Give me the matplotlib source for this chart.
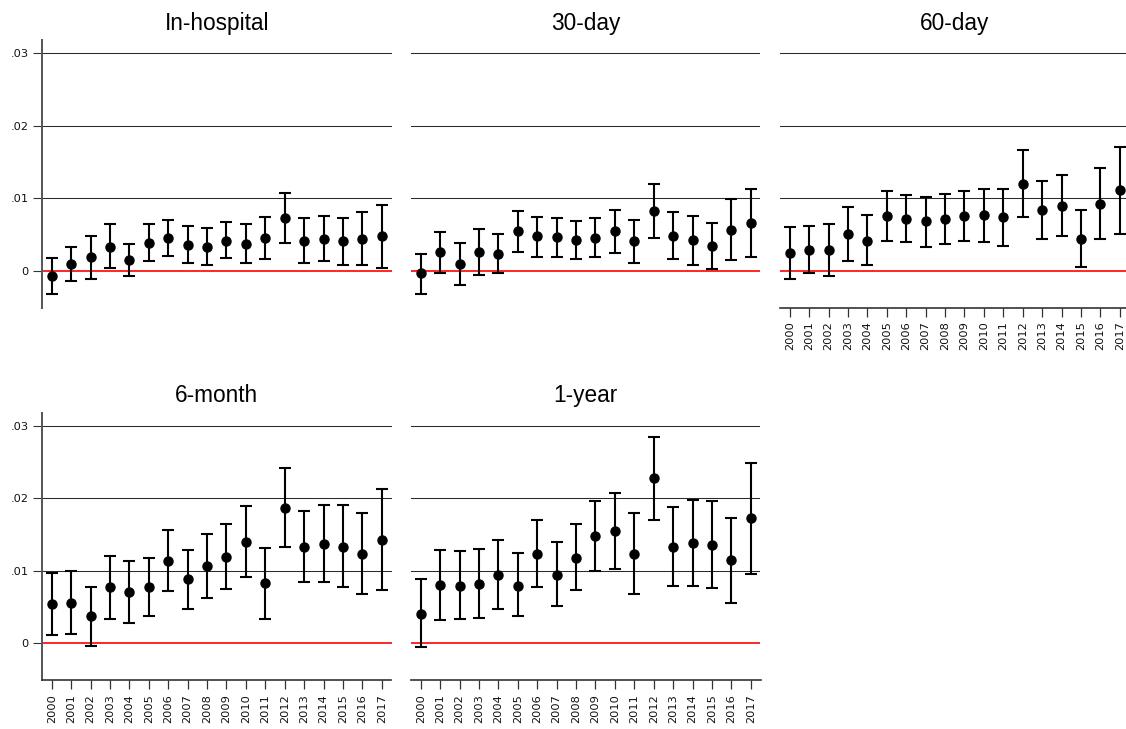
import matplotlib
matplotlib.use("Agg")
import matplotlib.pyplot as plt
import numpy as np

years = list(range(2000, 2018))

# point estimates, upper and lower 95% bounds by outcome window
inhosp_est = [-0.0007, 0.0009, 0.0018, 0.0033, 0.0015, 0.0038, 0.0045, 0.0035, 0.0033, 0.0041,
              0.0036, 0.0045, 0.0072, 0.0041, 0.0044, 0.0041, 0.0044, 0.0047]
inhosp_hi = [0.0017, 0.0033, 0.0047, 0.0064, 0.0037, 0.0064, 0.0070, 0.0061, 0.0059, 0.0067,
             0.0064, 0.0074, 0.0107, 0.0073, 0.0075, 0.0073, 0.0081, 0.0090]
inhosp_lo = [-0.0032, -0.0015, -0.0011, 0.0003, -0.0008, 0.0013, 0.0020, 0.0010, 0.0007, 0.0017,
             0.0011, 0.0016, 0.0038, 0.0011, 0.0013, 0.0008, 0.0008, 0.0003]

d30_est = [-0.0004, 0.0025, 0.0009, 0.0025, 0.0023, 0.0054, 0.0047, 0.0046, 0.0042, 0.0045,
           0.0054, 0.0041, 0.0082, 0.0048, 0.0042, 0.0034, 0.0056, 0.0066]
d30_hi = [0.0023, 0.0053, 0.0038, 0.0057, 0.0050, 0.0082, 0.0074, 0.0073, 0.0069, 0.0073,
          0.0083, 0.0070, 0.0120, 0.0081, 0.0075, 0.0066, 0.0099, 0.0112]
d30_lo = [-0.0032, -0.0004, -0.0020, -0.0006, -0.0004, 0.0026, 0.0019, 0.0018, 0.0016, 0.0018,
          0.0024, 0.0010, 0.0045, 0.0016, 0.0008, 0.0002, 0.0014, 0.0019]

d60_est = [0.0024, 0.0029, 0.0028, 0.0051, 0.0041, 0.0075, 0.0071, 0.0068, 0.0071, 0.0075,
           0.0076, 0.0074, 0.0120, 0.0084, 0.0089, 0.0044, 0.0092, 0.0111]
d60_hi = [0.0060, 0.0062, 0.0064, 0.0088, 0.0076, 0.0110, 0.0104, 0.0102, 0.0106, 0.0110,
          0.0113, 0.0113, 0.0166, 0.0123, 0.0132, 0.0084, 0.0141, 0.0171]
d60_lo = [-0.0011, -0.0004, -0.0007, 0.0013, 0.0007, 0.0041, 0.0039, 0.0033, 0.0037, 0.0041,
          0.0039, 0.0034, 0.0074, 0.0044, 0.0047, 0.0005, 0.0043, 0.0050]

m6_est = [0.0054, 0.0056, 0.0037, 0.0077, 0.0070, 0.0078, 0.0113, 0.0088, 0.0106, 0.0119,
          0.0140, 0.0083, 0.0187, 0.0133, 0.0137, 0.0133, 0.0123, 0.0143]
m6_hi = [0.0097, 0.0100, 0.0078, 0.0121, 0.0113, 0.0118, 0.0156, 0.0129, 0.0150, 0.0164,
         0.0189, 0.0132, 0.0242, 0.0183, 0.0190, 0.0190, 0.0179, 0.0213]
m6_lo = [0.0011, 0.0013, -0.0004, 0.0033, 0.0028, 0.0038, 0.0072, 0.0047, 0.0063, 0.0075,
         0.0092, 0.0034, 0.0133, 0.0084, 0.0085, 0.0078, 0.0068, 0.0073]

y1_est = [0.0041, 0.0080, 0.0079, 0.0082, 0.0094, 0.0079, 0.0123, 0.0094, 0.0118, 0.0148,
          0.0155, 0.0123, 0.0228, 0.0133, 0.0138, 0.0136, 0.0115, 0.0173]
y1_hi = [0.0088, 0.0128, 0.0127, 0.0130, 0.0142, 0.0124, 0.0170, 0.0139, 0.0165, 0.0196,
         0.0207, 0.0179, 0.0285, 0.0188, 0.0197, 0.0196, 0.0173, 0.0249]
y1_lo = [-0.0005, 0.0032, 0.0033, 0.0035, 0.0047, 0.0037, 0.0077, 0.0051, 0.0073, 0.0100,
         0.0102, 0.0068, 0.0170, 0.0079, 0.0079, 0.0076, 0.0056, 0.0096]

titles = ["In-hospital", "30-day", "60-day", "6-month", "1-year"]
panels = [(inhosp_est, inhosp_lo, inhosp_hi), (d30_est, d30_lo, d30_hi),
          (d60_est, d60_lo, d60_hi), (m6_est, m6_lo, m6_hi), (y1_est, y1_lo, y1_hi)]

W, H = 1126, 729
fig = plt.figure(figsize=(W / 100, H / 100), dpi=100)

col_left = [42, 411, 780]
row_top = [40, 412.7]
pw, ph = 349.5, 267.5

tick_font = {"family": "DejaVu Sans", "size": 8.2, "color": "#111111"}

for k, (title, (est, lo, hi)) in enumerate(zip(titles, panels)):
    r, c = divmod(k, 3)
    ax = fig.add_axes([col_left[c] / W, 1 - (row_top[r] + ph) / H, pw / W, ph / H])
    ax.set_xlim(1999.5, 2017.5)
    ax.set_ylim(-0.0051, 0.0318)

    for g in [0.01, 0.02, 0.03]:
        ax.axhline(g, color="#2a2a2a", lw=0.75, zorder=1)
    ax.axhline(0, color="red", lw=1.2, zorder=2)

    est = np.array(est)
    yerr = np.vstack([est - np.array(lo), np.array(hi) - est])
    ax.errorbar(years, est, yerr=yerr, fmt="o", color="black", ms=6.5,
                elinewidth=1.5, capsize=4, capthick=1.5, zorder=3)

    ax.set_title(title, fontsize=16.3, family="Liberation Sans", pad=7.5)

    for s in ["top", "right"]:
        ax.spines[s].set_visible(False)

    # y axis only in the first column
    if c == 0:
        ax.spines["left"].set_color("#555555")
        ax.spines["left"].set_linewidth(1.4)
        ax.set_yticks([0, 0.01, 0.02, 0.03])
        ax.set_yticklabels(["0", ".01", ".02", ".03"], fontdict=tick_font)
        ax.tick_params(axis="y", length=6.3, width=0.8, pad=3.5, color="#333333")
    else:
        ax.spines["left"].set_visible(False)
        ax.set_yticks([])

    # x axis only where there is no panel below
    if r == 1 or c == 2:
        ax.spines["bottom"].set_color("#333333")
        ax.spines["bottom"].set_linewidth(1.2)
        ax.set_xticks(years)
        ax.set_xticklabels([str(y) for y in years], rotation=90, fontdict=tick_font)
        ax.tick_params(axis="x", length=6.3, width=0.9, pad=3.5, color="#333333")
    else:
        ax.spines["bottom"].set_visible(False)
        ax.set_xticks([])

fig.savefig("out.png", dpi=100)
